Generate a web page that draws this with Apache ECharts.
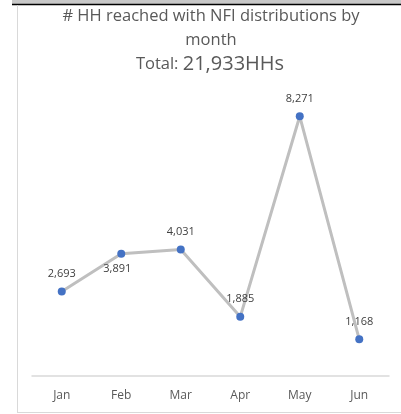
<!DOCTYPE html>
<html>
<head>
<meta charset="utf-8">
<script src="https://cdn.jsdelivr.net/npm/echarts@6/dist/echarts.min.js"></script>
<style>
html,body{margin:0;padding:0;background:#fff;}
#chart{width:401px;height:414px;}
</style>
</head>
<body>
<div id="chart"></div>
<script>
const months = ['Jan', 'Feb', 'Mar', 'Apr', 'May', 'Jun'];
const households = [2693, 3891, 4031, 1885, 8271, 1168];
const titleLine1 = '# HH reached with NFI distributions by';
const titleLine2 = 'month';
const totalLabel = 'Total: ';
const totalValue = '21,933HHs';

const font = '"Open Sans", "Liberation Sans", sans-serif';
const chart = echarts.init(document.getElementById('chart'), null, {renderer: 'canvas'});

const seriesData = households.map((v, i) => {
  const item = {value: v};
  if (i === 1) {
    item.label = {position: 'bottom', offset: [-4, -2]};
  }
  return item;
});

function centered(text, y, size) {
  return {
    type: 'text', x: 211, y: y, z: 10,
    style: {
      text: text, font: size + 'px ' + font, fill: '#595959',
      textAlign: 'center', textVerticalAlign: 'middle'
    }
  };
}

chart.setOption({
  animation: false,
  backgroundColor: '#ffffff',
  graphic: [
    {type: 'rect', shape: {x: 12, y: 0, width: 389, height: 4}, style: {fill: '#c8c8c8'}, z: 10},
    {type: 'line', shape: {x1: 12, y1: 4.5, x2: 401, y2: 4.5}, style: {stroke: '#000', lineWidth: 1.5}, z: 10},
    {type: 'line', shape: {x1: 17.5, y1: 5, x2: 17.5, y2: 412}, style: {stroke: '#d9d9d9', lineWidth: 1}, z: 10},
    {type: 'line', shape: {x1: 17, y1: 412.5, x2: 401, y2: 412.5}, style: {stroke: '#d9d9d9', lineWidth: 1}, z: 10},
    centered(titleLine1, 16, 16.5),
    centered(titleLine2, 40, 16.5),
    {
      type: 'text', x: 210, y: 64, z: 10,
      style: {
        text: '{a|' + totalLabel + '}{b|' + totalValue + '}',
        textAlign: 'center', textVerticalAlign: 'middle',
        rich: {
          a: {fontSize: 16.5, fontFamily: font, fill: '#595959', color: '#595959'},
          b: {fontSize: 20, fontFamily: font, fill: '#595959', color: '#595959'}
        }
      }
    }
  ],
  grid: {left: 32, right: 12, top: 93.4, bottom: 38, containLabel: false},
  xAxis: {
    type: 'category',
    data: months,
    boundaryGap: true,
    axisLine: {show: true, lineStyle: {color: '#d9d9d9', width: 1.5}},
    axisTick: {show: false},
    axisLabel: {color: '#595959', fontSize: 12, fontFamily: font, margin: 14}
  },
  yAxis: {
    type: 'value', min: 0, max: 9000, show: false,
    splitLine: {show: false}
  },
  series: [{
    type: 'line',
    data: seriesData,
    symbol: 'circle',
    symbolSize: 8,
    itemStyle: {color: '#4472c4'},
    lineStyle: {color: '#bfbfbf', width: 3},
    label: {
      show: true, position: 'top', distance: 8,
      color: '#404040', fontSize: 11, fontFamily: font,
      formatter: p => p.value.toLocaleString('en-US')
    }
  }]
});
</script>
</body>
</html>
